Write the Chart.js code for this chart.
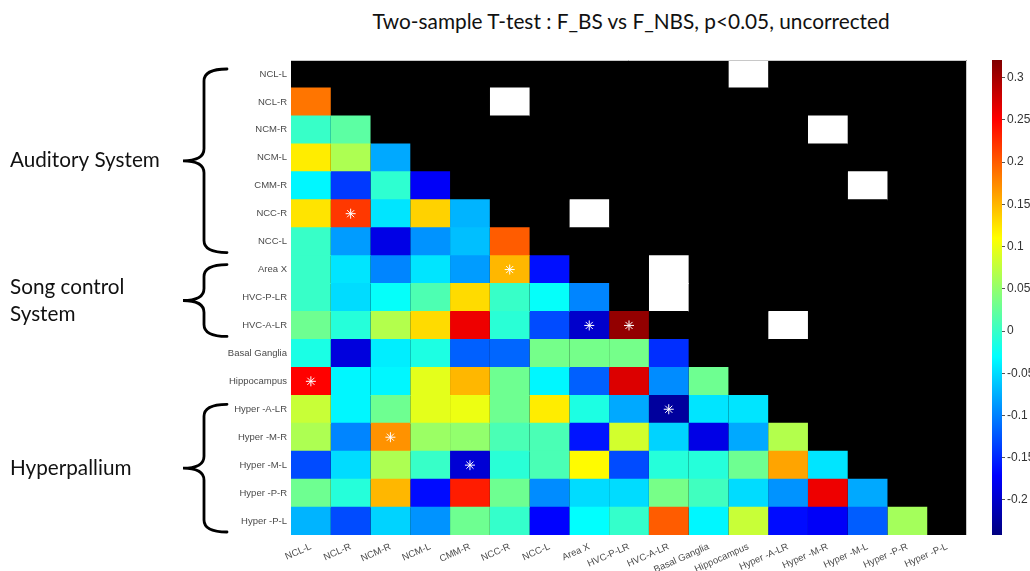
<!DOCTYPE html>
<html>
<head>
<meta charset="utf-8">
<script src="https://cdn.jsdelivr.net/npm/chart.js@4.4.1/dist/chart.umd.min.js"></script>
<style>
  html, body { margin: 0; padding: 0; background: #fff; overflow: hidden; }
  #wrap { position: relative; width: 1030px; height: 571px; overflow: hidden; }
  #main { position: absolute; left: 0; top: 0; }
  #cbar { position: absolute; left: 980px; top: 0; }
  #title {
    position: absolute; left: 291px; width: 680px; top: 8px;
    text-align: center; font: 20.8px Lato, sans-serif; line-height: 26px; color: #111;
  }
</style>
</head>
<body>
<div id="wrap">
  <div id="title">Two-sample T-test : F_BS vs F_NBS, p&lt;0.05, uncorrected</div>
  <canvas id="main" width="1030" height="571"></canvas>
  <canvas id="cbar" width="80" height="571"></canvas>
</div>
<script>
// region names (rows top->bottom, columns left->right)
const regions = ['NCL-L', 'NCL-R', 'NCM-R', 'NCM-L', 'CMM-R', 'NCC-R', 'NCC-L', 'Area X',
  'HVC-P-LR', 'HVC-A-LR', 'Basal Ganglia', 'Hippocampus', 'Hyper -A-LR', 'Hyper -M-R',
  'Hyper -M-L', 'Hyper -P-R', 'Hyper -P-L'];

// lower triangle t-values, row i holds columns 0..i-1
const row01 = [0.186];
const row02 = [0.0, 0.02];
const row03 = [0.12, 0.065, -0.078];
const row04 = [-0.035, -0.14, -0.005, -0.175];
const row05 = [0.125, 0.22, -0.045, 0.135, -0.072];
const row06 = [0.0, -0.085, -0.185, -0.09, -0.066, 0.20];
const row07 = [0.0, -0.045, -0.098, -0.045, -0.085, 0.15, -0.163];
const row08 = [0.0, -0.05, -0.028, 0.012, 0.13, 0.0, -0.028, -0.098];
const row09 = [0.03, -0.01, 0.068, 0.13, 0.26, -0.008, -0.13, -0.20, 0.31];
const row10 = [-0.016, -0.19, -0.04, -0.015, -0.118, -0.115, 0.034, 0.034, 0.034, -0.146];
const row11 = [0.25, -0.035, -0.035, 0.095, 0.15, 0.03, -0.035, -0.118, 0.27, -0.094, 0.03];
const row12 = [0.08, -0.035, 0.03, 0.095, 0.10, 0.03, 0.12, -0.015, -0.078, -0.225, -0.045, -0.045];
const row13 = [0.065, -0.098, 0.17, 0.055, 0.05, 0.01, 0.01, -0.16, 0.085, -0.055, -0.185, -0.078, 0.068];
const row14 = [-0.13, -0.05, 0.065, 0.0, -0.195, -0.008, 0.01, 0.112, -0.13, -0.01, -0.01, 0.03, 0.16, -0.045];
const row15 = [0.03, -0.01, 0.15, -0.165, 0.235, 0.03, -0.094, -0.05, -0.05, 0.035, 0.005, -0.05, -0.09, 0.26, -0.078];
const row16 = [-0.072, -0.13, -0.055, -0.09, 0.03, -0.002, -0.17, -0.03, -0.002, 0.20, -0.035, 0.08, -0.165, -0.175, -0.12, 0.06];
const lowerRows = [[], row01, row02, row03, row04, row05, row06, row07, row08,
  row09, row10, row11, row12, row13, row14, row15, row16];

// significant pairs [row, col]: star below the diagonal, white cell mirrored above
const sigPairs = [[5, 1], [7, 5], [9, 7], [9, 8], [11, 0], [12, 9], [13, 2], [14, 4]];

// colour limits + colorbar ticks
const cbMin = -0.2415;
const cbMax = 0.321;
const cbTicks = [-0.2, -0.15, -0.1, -0.05, 0, 0.05, 0.1, 0.15, 0.2, 0.25, 0.3];

// brace groups on the left (row index ranges)
const groups = [
  { lines: ['Auditory System'], from: 0, to: 6 },
  { lines: ['Song control', 'System'], from: 7, to: 9 },
  { lines: ['Hyperpallium'], from: 12, to: 16 }
];

// matlab style jet
function jet(v) {
  const t = Math.min(1, Math.max(0, (v - cbMin) / (cbMax - cbMin)));
  const c = k => Math.round(255 * Math.min(1, Math.max(0, 1.5 - Math.abs(4 * t - k))));
  return `rgb(${c(3)}, ${c(2)}, ${c(1)})`;
}

function cellColor(i, j) {
  if (j < i) return jet(lowerRows[i][j]);
  if (sigPairs.some(([r, c]) => r === j && c === i)) return '#ffffff';
  return '#000000';
}

const tickFont = { family: 'Liberation Sans, Arial, sans-serif', size: 9.5 };

// black backdrop so no light seams show between cells
const backdropPlugin = {
  id: 'backdrop',
  beforeDatasetsDraw(chart) {
    const { ctx, chartArea: a } = chart;
    ctx.save();
    ctx.fillStyle = '#000';
    ctx.fillRect(a.left, a.top, a.right - a.left, a.bottom - a.top);
    ctx.restore();
  }
};

// braces + group names, placed from the y scale
const groupPlugin = {
  id: 'groups',
  afterDraw(chart) {
    const { ctx, scales: { y }, chartArea } = chart;
    const half = (y.getPixelForValue(1) - y.getPixelForValue(0)) / 2;
    const xe = 227, xs = 204, xt = 183, r = 12;
    ctx.save();

    // thin axes frame on top/right
    ctx.strokeStyle = '#c8c8c8';
    ctx.lineWidth = 1;
    ctx.beginPath();
    ctx.moveTo(chartArea.left, chartArea.top + 0.5);
    ctx.lineTo(chartArea.right - 0.5, chartArea.top + 0.5);
    ctx.lineTo(chartArea.right - 0.5, chartArea.bottom);
    ctx.stroke();

    ctx.strokeStyle = '#000';
    ctx.lineWidth = 2.8;
    ctx.lineCap = 'round';
    ctx.fillStyle = '#111';
    ctx.font = '20.7px Lato, sans-serif';
    ctx.textBaseline = 'middle';
    groups.forEach(g => {
      const top = y.getPixelForValue(g.from) - half + 9;
      const bot = y.getPixelForValue(g.to) + half - 3;
      const mid = (top + bot) / 2;
      ctx.beginPath();
      ctx.moveTo(xe, top);
      ctx.quadraticCurveTo(xs, top, xs, top + r);
      ctx.lineTo(xs, mid - r);
      ctx.quadraticCurveTo(xs, mid, xt, mid);
      ctx.quadraticCurveTo(xs, mid, xs, mid + r);
      ctx.lineTo(xs, bot - r);
      ctx.quadraticCurveTo(xs, bot, xe, bot);
      ctx.stroke();
      g.lines.forEach((line, k) => {
        ctx.fillText(line, 10, mid + (k - (g.lines.length - 1) / 2) * 27);
      });
    });
    ctx.restore();
  }
};

function build() {
  const cellSets = regions.map((name, j) => ({
    type: 'bar',
    label: name,
    data: regions.map(() => [j, j + 1]),
    backgroundColor: regions.map((_, i) => cellColor(i, j)),
    grouped: false,
    barPercentage: 1.03,   // tiny overlap hides row seams
    categoryPercentage: 1,
    borderWidth: 0,
    order: 1
  }));

  const starSet = {
    type: 'scatter',
    label: 'p<0.05',
    data: sigPairs.map(([r, c]) => ({ x: c + 0.5, y: regions[r] })),
    pointStyle: 'star',
    radius: 5,
    borderColor: '#ffffff',
    backgroundColor: '#ffffff',
    borderWidth: 1,
    order: 0
  };

  new Chart(document.getElementById('main'), {
    type: 'bar',
    data: { labels: regions, datasets: [starSet, ...cellSets] },
    options: {
      indexAxis: 'y',
      responsive: false,
      animation: false,
      events: [],
      layout: { padding: { left: 0, top: 60, right: 63, bottom: 0 } },
      plugins: {
        legend: { display: false },
        tooltip: { enabled: false }
      },
      scales: {
        x: {
          type: 'linear',
          min: 0,
          max: regions.length,
          grid: { display: false, drawTicks: false },
          border: { display: false },
          afterBuildTicks: s => { s.ticks = regions.map((_, j) => ({ value: j + 0.5 })); },
          afterFit: s => { s.height = 36; },
          ticks: {
            autoSkip: false,
            minRotation: 24,
            maxRotation: 24,
            padding: 6,
            color: '#4a4a4a',
            font: tickFont,
            callback: v => regions[Math.floor(v)]
          }
        },
        y: {
          type: 'category',
          labels: regions,
          offset: true,
          grid: { display: false, drawTicks: false },
          border: { display: false },
          afterFit: s => { s.width = 291; },
          ticks: { autoSkip: false, padding: 4, color: '#4a4a4a', font: tickFont }
        }
      }
    },
    plugins: [backdropPlugin, groupPlugin]
  });

  // colorbar
  new Chart(document.getElementById('cbar'), {
    type: 'bar',
    data: {
      labels: ['t'],
      datasets: [{
        data: [[cbMin, cbMax]],
        barPercentage: 1,
        categoryPercentage: 1,
        borderWidth: 0,
        backgroundColor: context => {
          const { chartArea, ctx } = context.chart;
          if (!chartArea) return null;
          const g = ctx.createLinearGradient(0, chartArea.bottom, 0, chartArea.top);
          for (let k = 0; k <= 64; k++) {
            g.addColorStop(k / 64, jet(cbMin + (k / 64) * (cbMax - cbMin)));
          }
          return g;
        }
      }]
    },
    options: {
      responsive: false,
      animation: false,
      events: [],
      layout: { padding: { left: 12, top: 60, right: 0, bottom: 36 } },
      plugins: { legend: { display: false }, tooltip: { enabled: false } },
      scales: {
        x: { display: false },
        y: {
          position: 'right',
          min: cbMin,
          max: cbMax,
          afterBuildTicks: s => { s.ticks = cbTicks.map(v => ({ value: v })); },
          afterFit: s => { s.width = 58; },
          grid: { display: true, drawOnChartArea: false, tickLength: 3, color: '#555' },
          border: { display: false },
          ticks: {
            padding: 2,
            color: '#333',
            font: { family: 'Liberation Sans, Arial, sans-serif', size: 12 },
            callback: v => String(+v.toFixed(2))
          }
        }
      }
    }
  });
}

document.fonts.load('20px Lato').then(build, build);
</script>
</body>
</html>
